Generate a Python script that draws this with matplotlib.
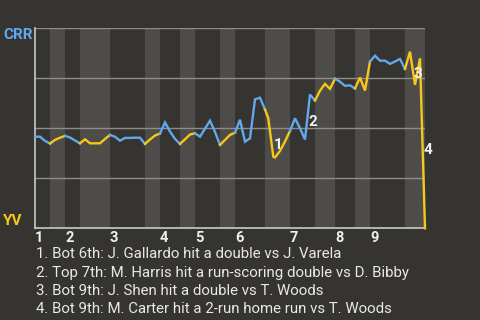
import matplotlib
matplotlib.use("Agg")
import matplotlib.pyplot as plt
import matplotlib.transforms as mtransforms

plt.rcParams['font.family'] = ['Roboto', 'DejaVu Sans']

# ---- data ----
# plate-appearance index (x) and win probability for CRR (y)
pa = [0, 1, 2, 3, 4, 5, 6, 7, 8, 9, 10, 11, 12, 13, 14, 15, 16, 17, 18, 19,
      20, 21, 22, 23, 24, 25, 26, 27, 28, 29, 30, 31, 32, 33, 34, 35, 36, 37,
      38, 39, 40, 41, 42, 43, 44, 45, 46, 46.66, 47.66, 48, 49, 50, 51, 52,
      53, 54, 55, 56, 57, 58, 59, 60, 61, 62, 63, 64, 65, 66, 67, 68, 69, 70,
      71, 72, 73, 74, 75, 76, 77, 78]
wp = [0.458, 0.458, 0.437, 0.424, 0.442, 0.453, 0.462, 0.454, 0.439, 0.425,
      0.445, 0.425, 0.425, 0.425, 0.447, 0.467, 0.458, 0.438, 0.452, 0.452,
      0.453, 0.453, 0.422, 0.444, 0.464, 0.474, 0.529, 0.484, 0.447, 0.422,
      0.445, 0.469, 0.475, 0.458, 0.498, 0.538, 0.482, 0.417, 0.442, 0.467,
      0.478, 0.543, 0.433, 0.450, 0.645, 0.653, 0.594, 0.550, 0.358, 0.354,
      0.387, 0.434, 0.487, 0.550, 0.500, 0.444, 0.669, 0.639, 0.688, 0.722,
      0.697, 0.748, 0.733, 0.712, 0.715, 0.699, 0.754, 0.689, 0.834, 0.863,
      0.838, 0.838, 0.822, 0.834, 0.847, 0.797, 0.883, 0.717, 0.850, 0.0]

# half-inning boundaries in plate appearances (top, bottom, top, bottom, ...)
half_bounds = [0, 3, 6, 9, 15, 22, 25, 29, 32, 37, 40, 46, 51, 56, 60, 64,
               67, 74, 78]
innings = ['1', '2', '3', '4', '5', '6', '7', '8', '9']

# key events: label, x (PA), y (win prob)
event_labels = ['1', '2', '3', '4']
event_x = [48.6, 55.6, 76.6, 78.6]
event_y = [0.4165, 0.534, 0.774, 0.394]
event_text = [
    "1. Bot 6th: J. Gallardo hit a double vs J. Varela",
    "2. Top 7th: M. Harris hit a run-scoring double vs D. Bibby",
    "3. Bot 9th: J. Shen hit a double vs T. Woods",
    "4. Bot 9th: M. Carter hit a 2-run home run vs T. Woods",
]

# ---- style ----
BG = '#363430'
BAND = '#4e4c49'
BLUE = '#62a8ee'
YELLOW = '#f7c71a'
GRID = '#8e8c8a'
AXIS = '#c9c9c9'
TXT = '#e8e8e8'

fig = plt.figure(figsize=(4.8, 3.2), dpi=100, facecolor=BG)
W, H = 480, 320
ax = fig.add_axes([35 / W, 1 - 228.3 / H, 390 / W, 200 / H])
ax.set_facecolor(BG)
ax.set_xlim(0, 78)
ax.set_ylim(0, 1)

# bands for bottom halves
for i in range(1, len(half_bounds) - 1, 2):
    ax.axvspan(half_bounds[i], half_bounds[i + 1], color=BAND, lw=0, zorder=0)

for yv in [0.25, 0.5, 0.75, 1.0]:
    ax.axhline(yv, color=GRID, lw=1.0, zorder=1)

# line segments coloured by half-inning
for i in range(len(half_bounds) - 1):
    a, b = half_bounds[i], half_bounds[i + 1]
    xs = [x for x in pa if a <= x <= b]
    ys = [y for x, y in zip(pa, wp) if a <= x <= b]
    ax.plot(xs, ys, color=BLUE if i % 2 == 0 else YELLOW, lw=1.7,
            solid_joinstyle='miter', zorder=3, clip_on=False)

for lab, x, y in zip(event_labels, event_x, event_y):
    ax.text(x, y, lab, ha='center', va='center', fontsize=11,
            fontweight='bold', color='#f2f2f2', zorder=5, clip_on=False)

for s in ['top', 'right']:
    ax.spines[s].set_visible(False)
for s in ['left', 'bottom']:
    ax.spines[s].set_color(AXIS)
    ax.spines[s].set_linewidth(1.2)
ax.set_xticks([])
ax.set_yticks([])

trans = mtransforms.blended_transform_factory(ax.transData, ax.transAxes)
for lab, x in zip(innings, half_bounds[0::2]):
    ax.text(x, -0.015, lab, transform=trans, ha='left', va='top',
            fontsize=10.5, fontweight='bold', color='#f0f0f0')

fig.text(3 / W, 1 - 28.3 / H, 'CRR', ha='left', va='top', fontsize=11,
         fontweight='bold', color=BLUE)
fig.text(3 / W, 1 - 225 / H, 'YV', ha='left', va='baseline', fontsize=11,
         fontweight='bold', color=YELLOW)

baselines = [258.3, 276.5, 294.7, 312.8]
for t, b in zip(event_text, baselines):
    fig.text(36 / W, 1 - b / H, t, ha='left', va='baseline', fontsize=10.8,
             color=TXT)

fig.savefig('out.png', dpi=100, facecolor=BG)
